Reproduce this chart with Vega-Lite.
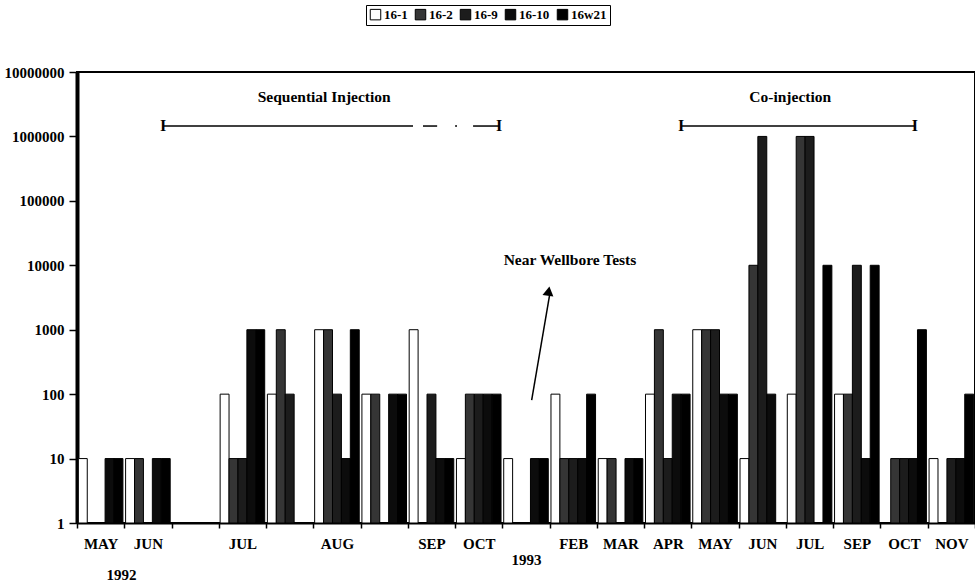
{
  "$schema": "https://vega.github.io/schema/vega-lite/v6.json",
  "width": 898,
  "height": 451,
  "autosize": {"type": "none"},
  "padding": {"left": 77, "top": 72, "right": 0, "bottom": 60},
  "config": {
    "font": "Liberation Serif",
    "view": {"stroke": "black", "strokeWidth": 2},
    "axis": {"labelFont": "Liberation Serif", "labelFontWeight": "bold", "labelColor": "black", "domainColor": "black", "tickColor": "black", "grid": false}
  },
  "datasets": {
    "bars": [
      {"s":0,"k":"16-1","v":10},{"s":0,"k":"16-2","v":1},{"s":0,"k":"16-9","v":1},{"s":0,"k":"16-10","v":10},{"s":0,"k":"16w21","v":10},
      {"s":1,"k":"16-1","v":10},{"s":1,"k":"16-2","v":10},{"s":1,"k":"16-9","v":1},{"s":1,"k":"16-10","v":10},{"s":1,"k":"16w21","v":10},
      {"s":2,"k":"16-1","v":1},{"s":2,"k":"16-2","v":1},{"s":2,"k":"16-9","v":1},{"s":2,"k":"16-10","v":1},{"s":2,"k":"16w21","v":1},
      {"s":3,"k":"16-1","v":100},{"s":3,"k":"16-2","v":10},{"s":3,"k":"16-9","v":10},{"s":3,"k":"16-10","v":1000},{"s":3,"k":"16w21","v":1000},
      {"s":4,"k":"16-1","v":100},{"s":4,"k":"16-2","v":1000},{"s":4,"k":"16-9","v":100},{"s":4,"k":"16-10","v":1},{"s":4,"k":"16w21","v":1},
      {"s":5,"k":"16-1","v":1000},{"s":5,"k":"16-2","v":1000},{"s":5,"k":"16-9","v":100},{"s":5,"k":"16-10","v":10},{"s":5,"k":"16w21","v":1000},
      {"s":6,"k":"16-1","v":100},{"s":6,"k":"16-2","v":100},{"s":6,"k":"16-9","v":1},{"s":6,"k":"16-10","v":100},{"s":6,"k":"16w21","v":100},
      {"s":7,"k":"16-1","v":1000},{"s":7,"k":"16-2","v":1},{"s":7,"k":"16-9","v":100},{"s":7,"k":"16-10","v":10},{"s":7,"k":"16w21","v":10},
      {"s":8,"k":"16-1","v":10},{"s":8,"k":"16-2","v":100},{"s":8,"k":"16-9","v":100},{"s":8,"k":"16-10","v":100},{"s":8,"k":"16w21","v":100},
      {"s":9,"k":"16-1","v":10},{"s":9,"k":"16-2","v":1},{"s":9,"k":"16-9","v":1},{"s":9,"k":"16-10","v":10},{"s":9,"k":"16w21","v":10},
      {"s":10,"k":"16-1","v":100},{"s":10,"k":"16-2","v":10},{"s":10,"k":"16-9","v":10},{"s":10,"k":"16-10","v":10},{"s":10,"k":"16w21","v":100},
      {"s":11,"k":"16-1","v":10},{"s":11,"k":"16-2","v":10},{"s":11,"k":"16-9","v":1},{"s":11,"k":"16-10","v":10},{"s":11,"k":"16w21","v":10},
      {"s":12,"k":"16-1","v":100},{"s":12,"k":"16-2","v":1000},{"s":12,"k":"16-9","v":10},{"s":12,"k":"16-10","v":100},{"s":12,"k":"16w21","v":100},
      {"s":13,"k":"16-1","v":1000},{"s":13,"k":"16-2","v":1000},{"s":13,"k":"16-9","v":1000},{"s":13,"k":"16-10","v":100},{"s":13,"k":"16w21","v":100},
      {"s":14,"k":"16-1","v":10},{"s":14,"k":"16-2","v":10000},{"s":14,"k":"16-9","v":1000000},{"s":14,"k":"16-10","v":100},{"s":14,"k":"16w21","v":1},
      {"s":15,"k":"16-1","v":100},{"s":15,"k":"16-2","v":1000000},{"s":15,"k":"16-9","v":1000000},{"s":15,"k":"16-10","v":1},{"s":15,"k":"16w21","v":10000},
      {"s":16,"k":"16-1","v":100},{"s":16,"k":"16-2","v":100},{"s":16,"k":"16-9","v":10000},{"s":16,"k":"16-10","v":10},{"s":16,"k":"16w21","v":10000},
      {"s":17,"k":"16-1","v":1},{"s":17,"k":"16-2","v":10},{"s":17,"k":"16-9","v":10},{"s":17,"k":"16-10","v":10},{"s":17,"k":"16w21","v":1000},
      {"s":18,"k":"16-1","v":10},{"s":18,"k":"16-2","v":1},{"s":18,"k":"16-9","v":10},{"s":18,"k":"16-10","v":10},{"s":18,"k":"16w21","v":100}
    ],
    "notes": [
      {"x": 5.23, "v": 4070000, "label": "Sequential Injection"},
      {"x": 15.09, "v": 4070000, "label": "Co-injection"},
      {"x": 10.43, "v": 12000, "label": "Near Wellbore Tests"}
    ],
    "ends": [
      {"x": 1.82, "v": 1450000},
      {"x": 8.93, "v": 1450000},
      {"x": 12.78, "v": 1450000},
      {"x": 17.73, "v": 1450000}
    ],
    "spans": [
      {"x": 1.82, "x2": 7.11, "v": 1450000},
      {"x": 7.32, "x2": 7.62, "v": 1450000},
      {"x": 8.0, "x2": 8.04, "v": 1450000},
      {"x": 8.38, "x2": 8.93, "v": 1450000},
      {"x": 12.78, "x2": 17.73, "v": 1450000}
    ],
    "arrow": [
      {"x": 9.62, "x2": 10.0, "v": 81, "v2": 3460}
    ],
    "head": [
      {"x": 9.98, "v": 3980}
    ]
  },
  "layer": [
    {
      "data": {"name": "bars"},
      "mark": {"type": "bar", "stroke": "black", "strokeWidth": 1},
      "encoding": {
        "x": {
          "field": "s", "type": "ordinal",
          "scale": {"paddingInner": 0, "paddingOuter": 0},
          "axis": {
            "title": null, "tickBand": "extent", "tickSize": 5, "tickWidth": 1.5,
            "labelPadding": 8, "labelFontSize": 15, "labelAngle": 0, "domainWidth": 2,
            "labelExpr": "['MAY','JUN','','JUL','','AUG','','SEP','OCT','','FEB','MAR','APR','MAY','JUN','JUL','SEP','OCT','NOV'][datum.value]"
          }
        },
        "xOffset": {
          "field": "k", "type": "nominal",
          "sort": ["16-1", "16-2", "16-9", "16-10", "16w21"],
          "scale": {"paddingInner": 0, "paddingOuter": 0.15}
        },
        "y": {
          "field": "v", "type": "quantitative",
          "scale": {"type": "log", "domain": [1, 10000000], "nice": false},
          "axis": {
            "title": null, "values": [1, 10, 100, 1000, 10000, 100000, 1000000, 10000000],
            "format": "d", "labelFontSize": 15, "tickSize": 8, "tickWidth": 1.5,
            "labelPadding": 5, "domainWidth": 4, "labelOverlap": false
          }
        },
        "y2": {"datum": 1},
        "fill": {
          "field": "k", "type": "nominal",
          "sort": ["16-1", "16-2", "16-9", "16-10", "16w21"],
          "scale": {"domain": ["16-1", "16-2", "16-9", "16-10", "16w21"], "range": ["#ffffff", "#353535", "#1c1c1c", "#0c0c0c", "#000000"]},
          "legend": {
            "title": null, "orient": "none", "legendX": 289, "legendY": -67,
            "direction": "horizontal", "symbolType": "square", "symbolSize": 110,
            "symbolStrokeColor": "black", "symbolStrokeWidth": 1,
            "labelFont": "Liberation Serif", "labelFontSize": 13, "labelFontWeight": "bold", "labelColor": "black",
            "strokeColor": "black", "padding": 3, "columnPadding": 5, "labelOffset": 2
          }
        }
      }
    },
    {
      "data": {"name": "notes"},
      "mark": {"type": "text", "font": "Liberation Serif", "fontWeight": "bold", "fontSize": 15.5, "color": "black"},
      "encoding": {
        "x": {
          "field": "x", "type": "quantitative",
          "scale": {"domain": [0, 19], "nice": false, "zero": false},
          "axis": {
            "title": null, "orient": "bottom", "values": [0.93, 9.5], "ticks": false, "tickSize": 0, "domain": false,
            "labelFontSize": 15, "labelOverlap": false,
            "labelExpr": "datum.value < 5 ? '1992' : '1993'",
            "labelPadding": {"condition": {"test": "datum.value < 5", "value": 44}, "value": 29}
          }
        },
        "y": {"field": "v", "type": "quantitative"},
        "text": {"field": "label"}
      }
    },
    {
      "data": {"name": "ends"},
      "mark": {"type": "text", "font": "Liberation Serif", "fontWeight": "bold", "fontSize": 16, "color": "black", "text": "I"},
      "encoding": {
        "x": {"field": "x", "type": "quantitative", "scale": {"domain": [0, 19], "nice": false, "zero": false}, "axis": null},
        "y": {"field": "v", "type": "quantitative"}
      }
    },
    {
      "data": {"name": "spans"},
      "mark": {"type": "rule", "color": "black", "strokeWidth": 1.5},
      "encoding": {
        "x": {"field": "x", "type": "quantitative", "scale": {"domain": [0, 19], "nice": false, "zero": false}, "axis": null},
        "x2": {"field": "x2"},
        "y": {"field": "v", "type": "quantitative"}
      }
    },
    {
      "data": {"name": "arrow"},
      "mark": {"type": "rule", "color": "black", "strokeWidth": 1.5},
      "encoding": {
        "x": {"field": "x", "type": "quantitative", "scale": {"domain": [0, 19], "nice": false, "zero": false}, "axis": null},
        "x2": {"field": "x2"},
        "y": {"field": "v", "type": "quantitative"},
        "y2": {"field": "v2"}
      }
    },
    {
      "data": {"name": "head"},
      "mark": {"type": "point", "shape": "triangle-up", "filled": true, "color": "black", "size": 120, "angle": 9, "opacity": 1},
      "encoding": {
        "x": {"field": "x", "type": "quantitative", "scale": {"domain": [0, 19], "nice": false, "zero": false}, "axis": null},
        "y": {"field": "v", "type": "quantitative"}
      }
    }
  ],
  "resolve": {"scale": {"x": "independent", "fill": "independent"}, "axis": {"x": "independent"}}
}
